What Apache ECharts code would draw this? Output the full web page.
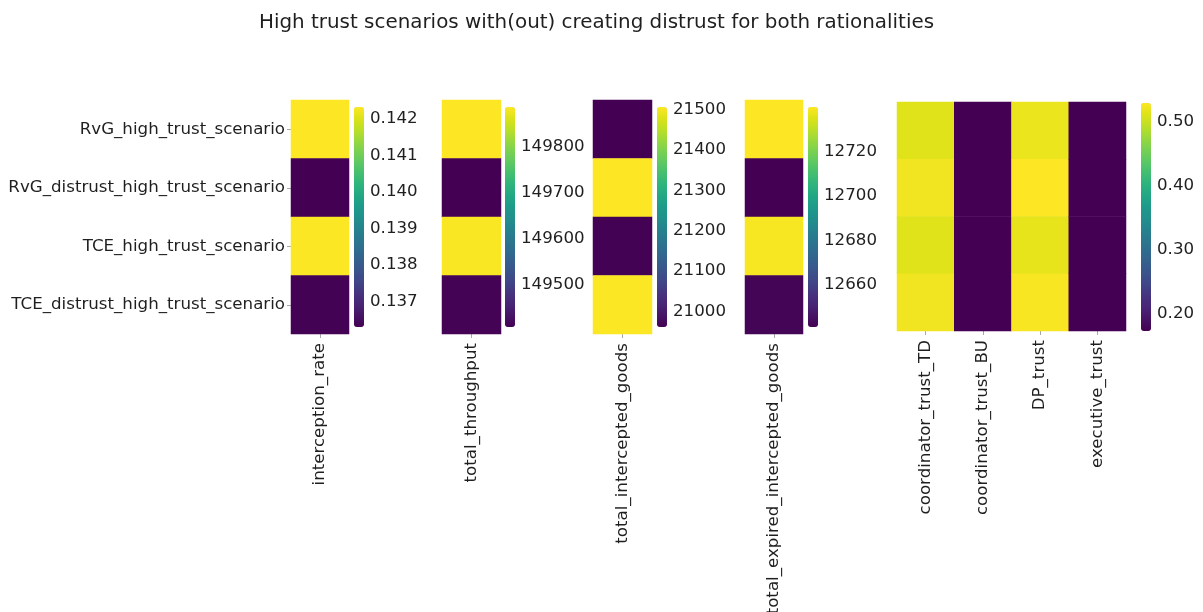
<!DOCTYPE html>
<html>
<head>
<meta charset="utf-8">
<script src="https://cdn.jsdelivr.net/npm/echarts@6/dist/echarts.min.js"></script>
<style>
  html, body { margin: 0; padding: 0; background: #fff; }
  #chart { width: 1203px; height: 612px; }
</style>
</head>
<body>
<div id="chart"></div>
<script>
// Scenarios (rows, top to bottom)
const scenarios = [
  'RvG_high_trust_scenario',
  'RvG_distrust_high_trust_scenario',
  'TCE_high_trust_scenario',
  'TCE_distrust_high_trust_scenario'
];

// Single-metric panels
const interceptionRate = [0.14233, 0.13630, 0.14232, 0.13631];
const totalThroughput = [149885, 149408, 149883, 149410];
const totalInterceptedGoods = [20961, 21507, 20963, 21505];
const totalExpiredInterceptedGoods = [12740, 12641, 12739, 12642];

// Trust panel
const trustColumns = ['coordinator_trust_TD', 'coordinator_trust_BU', 'DP_trust', 'executive_trust'];
const coordinatorTrustTD = [0.514, 0.523, 0.514, 0.523];
const coordinatorTrustBU = [0.173, 0.173, 0.173, 0.173];
const dpTrust = [0.520, 0.530, 0.518, 0.527];
const executiveTrust = [0.173, 0.173, 0.173, 0.173];

// Colorbar tick labels
const ticksInterception = [0.137, 0.138, 0.139, 0.140, 0.141, 0.142];
const ticksThroughput = [149500, 149600, 149700, 149800];
const ticksIntercepted = [21000, 21100, 21200, 21300, 21400, 21500];
const ticksExpired = [12660, 12680, 12700, 12720];
const ticksTrust = [0.20, 0.30, 0.40, 0.50];

const titleText = 'High trust scenarios with(out) creating distrust for both rationalities';

// viridis colormap stops
const viridis = ['#440154', '#471365', '#482475', '#46327e', '#414487', '#3b528b', '#355f8d',
  '#2f6c8e', '#2a788e', '#25848e', '#21918c', '#1e9b8a', '#22a884', '#2fb47c', '#44bf70',
  '#5ec962', '#7ad151', '#9bd93c', '#bddf26', '#dde318', '#fde725'];

const FONT = 'DejaVu Sans';
const TEXT = '#1f1f1f';
const TICK = '#a8a8a8';
const FS = 16.67;

// Panel definitions: heatmap box, colorbar box, columns, values, ticks
const panels = [
  { cols: ['interception_rate'], values: [interceptionRate], ticks: ticksInterception, dec: 3,
    heat: { left: 291, top: 100, width: 58, height: 234 }, bar: { left: 354, top: 107, width: 10, height: 220 } },
  { cols: ['total_throughput'], values: [totalThroughput], ticks: ticksThroughput, dec: 0,
    heat: { left: 442, top: 100, width: 59, height: 234 }, bar: { left: 505, top: 107, width: 10, height: 220 } },
  { cols: ['total_intercepted_goods'], values: [totalInterceptedGoods], ticks: ticksIntercepted, dec: 0,
    heat: { left: 593, top: 100, width: 59, height: 234 }, bar: { left: 657, top: 107, width: 10, height: 220 } },
  { cols: ['total_expired_intercepted_goods'], values: [totalExpiredInterceptedGoods], ticks: ticksExpired, dec: 0,
    heat: { left: 745, top: 100, width: 58, height: 234 }, bar: { left: 808, top: 107, width: 10, height: 220 } },
  { cols: trustColumns, values: [coordinatorTrustTD, coordinatorTrustBU, dpTrust, executiveTrust], ticks: ticksTrust, dec: 2,
    heat: { left: 897, top: 102, width: 229, height: 229 }, bar: { left: 1141, top: 103, width: 10, height: 228 } }
];

const grid = [], xAxis = [], yAxis = [], visualMap = [], series = [];
const n = panels.length;

panels.forEach((p, i) => {
  const all = [].concat(...p.values);
  const vmin = Math.min(...all), vmax = Math.max(...all);
  const data = [];
  p.values.forEach((col, ci) => col.forEach((v, ri) => data.push([ci, ri, v])));

  grid[i] = Object.assign({ containLabel: false, outerBoundsMode: 'none' }, p.heat);
  grid[n + i] = Object.assign({ containLabel: false, outerBoundsMode: 'none' }, p.bar);

  xAxis[i] = {
    gridIndex: i, type: 'category', data: p.cols, position: 'bottom',
    axisLine: { show: false }, splitLine: { show: false }, splitArea: { show: false },
    axisTick: { show: true, alignWithLabel: true, length: 4, lineStyle: { color: TICK } },
    axisLabel: { rotate: 90, margin: 9, fontFamily: FONT, fontSize: FS, color: TEXT }
  };
  yAxis[i] = {
    gridIndex: i, type: 'category', data: scenarios, inverse: true,
    axisLine: { show: false }, splitLine: { show: false }, splitArea: { show: false },
    axisTick: { show: i === 0, alignWithLabel: true, length: 4, lineStyle: { color: TICK } },
    axisLabel: { show: i === 0, margin: 6, fontFamily: FONT, fontSize: FS, color: TEXT }
  };

  xAxis[n + i] = { gridIndex: n + i, type: 'value', show: false, min: 0, max: 1 };
  yAxis[n + i] = {
    gridIndex: n + i, type: 'value', position: 'right', min: vmin, max: vmax,
    axisLine: { show: false }, splitLine: { show: false },
    axisTick: { show: true, length: 4, customValues: p.ticks, lineStyle: { color: TICK } },
    axisLabel: {
      margin: 6, customValues: p.ticks, fontFamily: FONT, fontSize: FS, color: TEXT,
      formatter: v => Number(v).toFixed(p.dec)
    }
  };

  visualMap.push({
    type: 'continuous', seriesIndex: i, min: vmin, max: vmax,
    calculable: false, realtime: false, hoverLink: false,
    orient: 'vertical', left: p.bar.left, top: p.bar.top,
    itemWidth: p.bar.width, itemHeight: p.bar.height, padding: 0,
    text: null, inRange: { color: viridis }
  });

  series.push({
    type: 'heatmap', xAxisIndex: i, yAxisIndex: i, data: data,
    silent: true, itemStyle: { borderWidth: 0 }
  });
});

const chart = echarts.init(document.getElementById('chart'), null, { renderer: 'canvas' });
chart.setOption({
  animation: false,
  backgroundColor: '#ffffff',
  title: {
    text: titleText, left: 254, top: 8,
    textStyle: { fontFamily: FONT, fontSize: 19.9, fontWeight: 'normal', color: TEXT }
  },
  grid, xAxis, yAxis, visualMap, series
});
</script>
</body>
</html>
